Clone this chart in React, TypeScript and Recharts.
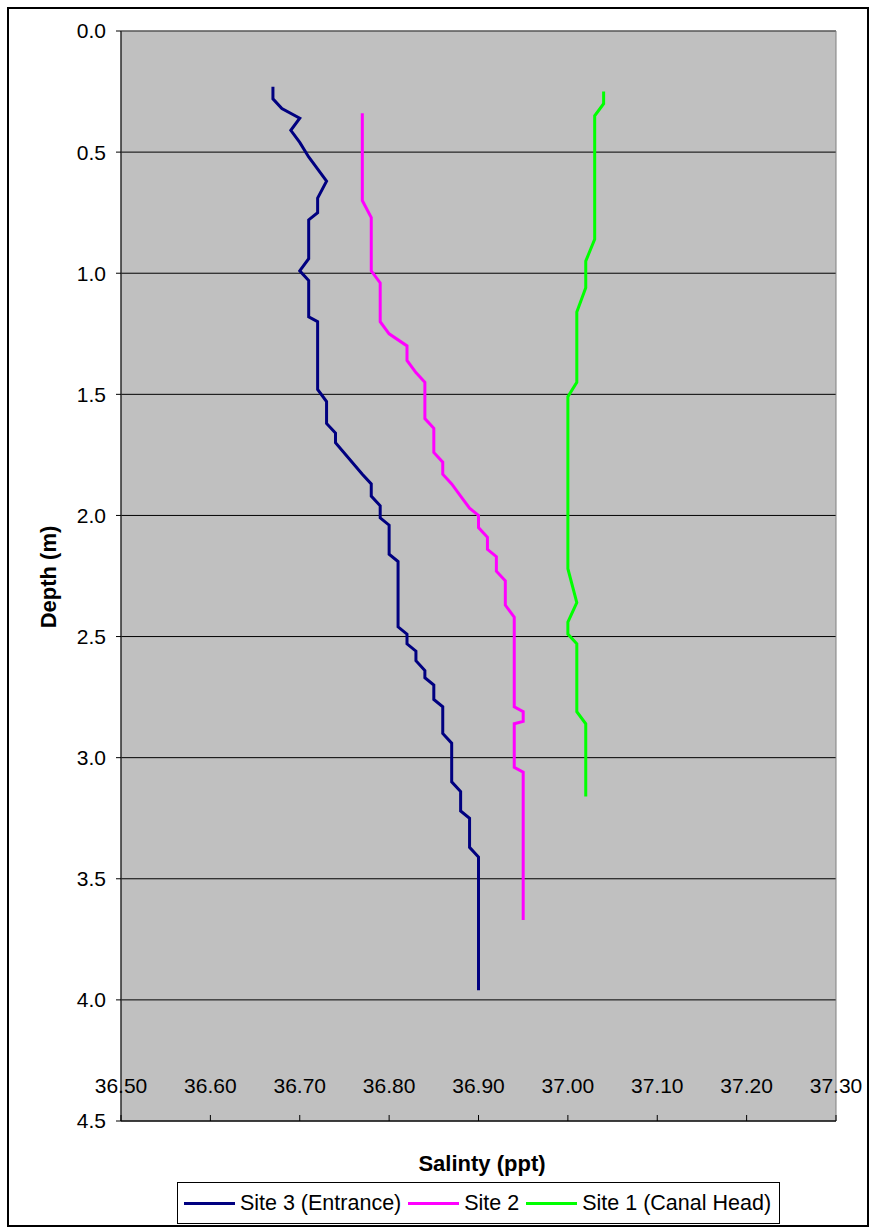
import { LineChart, Line, XAxis, YAxis, CartesianGrid, ReferenceArea, Label } from 'recharts'

const FONT = '"Liberation Sans", Arial, sans-serif'

const seriesNames = ['Site 3 (Entrance)', 'Site 2', 'Site 1 (Canal Head)']
const seriesColors = ['#000080', '#FF00FF', '#00FF00']

// Site 3 (Entrance)
const site3Salinity = [
  36.67, 36.67, 36.68, 36.70, 36.69, 36.70, 36.71, 36.73, 36.72, 36.72, 36.71, 36.71,
  36.70, 36.71, 36.71, 36.72, 36.72, 36.73, 36.73, 36.74, 36.74, 36.77, 36.78, 36.78,
  36.79, 36.79, 36.80, 36.80, 36.81, 36.81, 36.82, 36.82, 36.83, 36.83, 36.84, 36.84,
  36.85, 36.85, 36.86, 36.86, 36.87, 36.87, 36.88, 36.88, 36.89, 36.89, 36.90, 36.90,
]
const site3Depth = [
  0.23, 0.28, 0.32, 0.36, 0.41, 0.46, 0.52, 0.62, 0.69, 0.75, 0.78, 0.94,
  0.99, 1.03, 1.18, 1.20, 1.48, 1.53, 1.62, 1.66, 1.70, 1.83, 1.87, 1.92,
  1.96, 2.01, 2.04, 2.16, 2.19, 2.46, 2.49, 2.53, 2.56, 2.60, 2.64, 2.67,
  2.70, 2.76, 2.79, 2.90, 2.94, 3.10, 3.14, 3.22, 3.25, 3.37, 3.41, 3.96,
]

// Site 2
const site2Salinity = [
  36.77, 36.77, 36.78, 36.78, 36.79, 36.79, 36.80, 36.82, 36.82, 36.83, 36.84, 36.84,
  36.85, 36.85, 36.86, 36.86, 36.87, 36.88, 36.89, 36.90, 36.90, 36.91, 36.91, 36.92,
  36.92, 36.93, 36.93, 36.94, 36.94, 36.95, 36.95, 36.94, 36.94, 36.95, 36.95,
]
const site2Depth = [
  0.34, 0.70, 0.77, 0.99, 1.04, 1.20, 1.25, 1.30, 1.36, 1.41, 1.45, 1.60,
  1.64, 1.74, 1.78, 1.83, 1.87, 1.92, 1.97, 2.00, 2.05, 2.09, 2.14, 2.17,
  2.23, 2.27, 2.37, 2.42, 2.79, 2.81, 2.85, 2.86, 3.04, 3.06, 3.67,
]

// Site 1 (Canal Head)
const site1Salinity = [
  37.04, 37.04, 37.03, 37.03, 37.02, 37.02, 37.01, 37.01, 37.00, 37.00, 37.01, 37.00,
  37.00, 37.01, 37.01, 37.02, 37.02,
]
const site1Depth = [
  0.25, 0.30, 0.35, 0.86, 0.95, 1.06, 1.16, 1.45, 1.51, 2.22, 2.36, 2.44,
  2.49, 2.53, 2.81, 2.86, 3.16,
]

const salinityTicks = [36.5, 36.6, 36.7, 36.8, 36.9, 37.0, 37.1, 37.2, 37.3]
const depthTicks = [0, 0.5, 1.0, 1.5, 2.0, 2.5, 3.0, 3.5, 4.0, 4.5]

const toRows = (sal: number[], dep: number[]) => sal.map((s, i) => ({ salinity: s, depth: dep[i] }))

const series = [
  toRows(site3Salinity, site3Depth),
  toRows(site2Salinity, site2Depth),
  toRows(site1Salinity, site1Depth),
]

// x ticks sit inside the plot in the original: short marks pointing up, labels above the axis
const SalinityTick = (props: any) => {
  const { x, y, payload } = props
  return (
    <g>
      <line x1={x} x2={x} y1={y} y2={y - 6} stroke="#000" strokeWidth={1} />
      <text x={x} y={y - 28} textAnchor="middle" fill="#000" fontSize={21} fontFamily={FONT}>
        {Number(payload.value).toFixed(2)}
      </text>
    </g>
  )
}

export default function App() {
  return (
    <div style={{ position: 'absolute', left: 0, top: 0, width: 875, height: 1232, background: '#fff', fontFamily: FONT }}>
      <div style={{ position: 'absolute', left: 7, top: 7, width: 858, height: 1216, border: '2px solid #000' }} />
      <div style={{ position: 'absolute', left: 0, top: 0 }}>
        <LineChart width={875} height={1232} margin={{ top: 31, right: 39, left: 60, bottom: 81 }}>
          <CartesianGrid horizontal vertical={false} fill="#C0C0C0" stroke="#000" strokeWidth={1} />
          <ReferenceArea x1={36.5} x2={37.3} y1={0} y2={4.5} fill="none" stroke="#808080" strokeWidth={1} ifOverflow="visible" />
          <XAxis
            type="number"
            dataKey="salinity"
            domain={[36.5, 37.3]}
            ticks={salinityTicks}
            allowDataOverflow
            height={30}
            tickSize={0}
            tickMargin={0}
            tick={SalinityTick}
            stroke="#000"
            interval={0}
          >
            <Label
              content={() => (
                <text x={482} y={1171} textAnchor="middle" fontSize={22} fontWeight="bold" fontFamily={FONT} fill="#000">
                  Salinty (ppt)
                </text>
              )}
            />
          </XAxis>
          <YAxis
            type="number"
            dataKey="depth"
            reversed
            domain={[0, 4.5]}
            ticks={depthTicks}
            allowDataOverflow
            width={61}
            tickSize={5}
            tickMargin={10}
            tickFormatter={(v: number) => v.toFixed(1)}
            tick={{ fill: '#000', fontSize: 21, fontFamily: FONT }}
            stroke="#000"
            interval={0}
          >
            <Label
              content={() => (
                <text
                  x={48}
                  y={577}
                  transform="rotate(-90 48 577)"
                  textAnchor="middle"
                  dominantBaseline="central"
                  fontSize={22}
                  fontWeight="bold"
                  fontFamily={FONT}
                  fill="#000"
                >
                  Depth (m)
                </text>
              )}
            />
          </YAxis>
          {series.map((rows, i) => (
            <Line
              key={seriesNames[i]}
              data={rows}
              dataKey="depth"
              name={seriesNames[i]}
              stroke={seriesColors[i]}
              strokeWidth={3}
              dot={false}
              activeDot={false}
              isAnimationActive={false}
            />
          ))}
        </LineChart>
      </div>
      <div style={{ position: 'absolute', left: 121, width: 715, top: 1182, display: 'flex', justifyContent: 'center' }}>
        <div
          style={{
            height: 40,
            border: '1px solid #000',
            display: 'flex',
            alignItems: 'center',
            padding: '0 8px 0 6px',
            fontSize: 21.5,
            fontFamily: FONT,
            color: '#000',
            background: '#fff',
            whiteSpace: 'nowrap',
          }}
        >
          {seriesNames.map((name, i) => (
            <div key={name} style={{ display: 'flex', alignItems: 'center', marginRight: i < 2 ? 7 : 0 }}>
              <div style={{ width: 51, height: 3, background: seriesColors[i], marginRight: 5 }} />
              <span>{name}</span>
            </div>
          ))}
        </div>
      </div>
    </div>
  )
}
